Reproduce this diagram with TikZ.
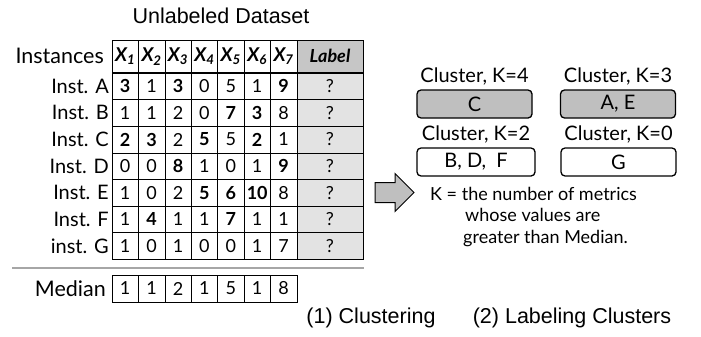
\documentclass[tikz,border=0pt]{standalone}
\usepackage{fontspec}
\newfontfamily\tabfont{Lato}
\newfontfamily\capfont{Liberation Sans}
\usetikzlibrary{positioning,shapes.arrows,calc}
\newcommand\bnum[1]{\textbf{#1}}
\tikzset{
  cell/.style={draw, minimum width=26.4pt, minimum height=26.6pt, inner sep=0pt,
               font=\tabfont\fontsize{18}{18}\selectfont},
  hcell/.style={cell, minimum height=32.5pt, font=\tabfont\fontsize{19}{19}\selectfont\bfseries\itshape},
  lcell/.style={cell, minimum width=66pt, fill=gray!22},
  rowlab/.style={anchor=east, inner sep=0pt, font=\tabfont\fontsize{20}{20}\selectfont},
  biglab/.style={rowlab, font=\tabfont\fontsize{21.5}{21.5}\selectfont},
  cbox/.style={draw, rounded corners=4pt, line width=1.3pt, minimum width=115pt,
               minimum height=28pt, inner sep=0pt, font=\tabfont\fontsize{20}{20}\selectfont},
  cgray/.style={cbox, fill=gray!50},
  clab/.style={inner sep=0pt, font=\tabfont\fontsize{20}{20}\selectfont},
  captext/.style={inner sep=0pt, font=\capfont\fontsize{21.5}{21.5}\selectfont},
}
\begin{document}
\begin{tikzpicture}[x=1pt, y=-1pt]
  \useasboundingbox (0,0) rectangle (701,337);
  % title
  \node[captext] (title) at (221,16) {Unlabeled Dataset};
  % header row
  \node[biglab] (inst) at (104,56) {Instances};
  \foreach \j in {1,...,7}
    \node[hcell] (hdr-\j) at ({112+26.4*(\j-0.5)},56.25) {X\textsubscript{\j}};
  \node[lcell, minimum height=32.5pt, fill=gray!45,
        font=\tabfont\fontsize{18}{18}\selectfont\bfseries\itshape] (hdrlab) at (330,56.25) {Label};
  \draw[line width=2pt] (hdr-1.south west) -- (hdrlab.south east);
  % data rows
  \foreach \nm/\vals [count=\i] in {
      {Inst. A}/{\bnum{3},1,\bnum{3},0,5,1,\bnum{9}},
      {Inst. B}/{1,1,2,0,\bnum{7},\bnum{3},8},
      {Inst. C}/{\bnum{2},\bnum{3},2,\bnum{5},5,\bnum{2},1},
      {Inst. D}/{0,0,\bnum{8},1,0,1,\bnum{9}},
      {Inst. E}/{1,0,2,\bnum{5},\bnum{6},\bnum{10},8},
      {Inst. F}/{1,\bnum{4},1,1,\bnum{7},1,1},
      {inst. G}/{1,0,1,0,0,1,7}} {
    \node[rowlab] (row-\i) at (109,{73+26.6*(\i-0.5)}) {\nm};
    \foreach \v [count=\j] in \vals
      \node[cell] (cell-\i-\j) at ({112+26.4*(\j-0.5)},{73+26.6*(\i-0.5)}) {\v};
    \node[lcell] (lab-\i) at (330,{73+26.6*(\i-0.5)}) {?};
  }
  % separator
  \draw[gray!70, line width=1.6pt] (12,268) -- (364,268);
  % median row
  \node[biglab] (med) at (106,288.5) {Median};
  \foreach \v [count=\j] in {1,1,2,1,5,1,8}
    \node[cell, minimum height=27pt] (med-\j) at ({112+26.4*(\j-0.5)},288.5) {\v};
  % arrow
  \node[single arrow, draw, fill=gray!50, line width=1pt, minimum height=39pt,
        single arrow head extend=9pt, inner sep=9.5pt] (arrow) at (389.5,192.5) {};
  % clusters
  \node[cgray] (k4) at (474.5,104) {C};
  \node[cgray] (k3) at (618,104) {A, E};
  \node[cbox, minimum width=118pt] (k2) at (476,162) {B, D,\enspace F};
  \node[cbox] (k0) at (618.5,162) {G};
  \node[clab, above=4pt of k4] (k4lab) {Cluster, K=4};
  \node[clab, above=4pt of k3] (k3lab) {Cluster, K=3};
  \node[clab, above=4pt of k2] (k2lab) {Cluster, K=2};
  \node[clab, above=4pt of k0] (k0lab) {Cluster, K=0};
  \node[anchor=north west, inner sep=0pt, align=left,
        font=\tabfont\fontsize{18}{21.3}\selectfont] (kdef) at (430,187)
    {K = the number of metrics\\\hspace*{35pt}whose values are\\\hspace*{33pt}greater than Median.};
  % captions
  \node[captext] (step1) at (371,318) {(1) Clustering};
  \node[captext] (step2) at (572,318) {(2) Labeling Clusters};
\end{tikzpicture}
\end{document}
